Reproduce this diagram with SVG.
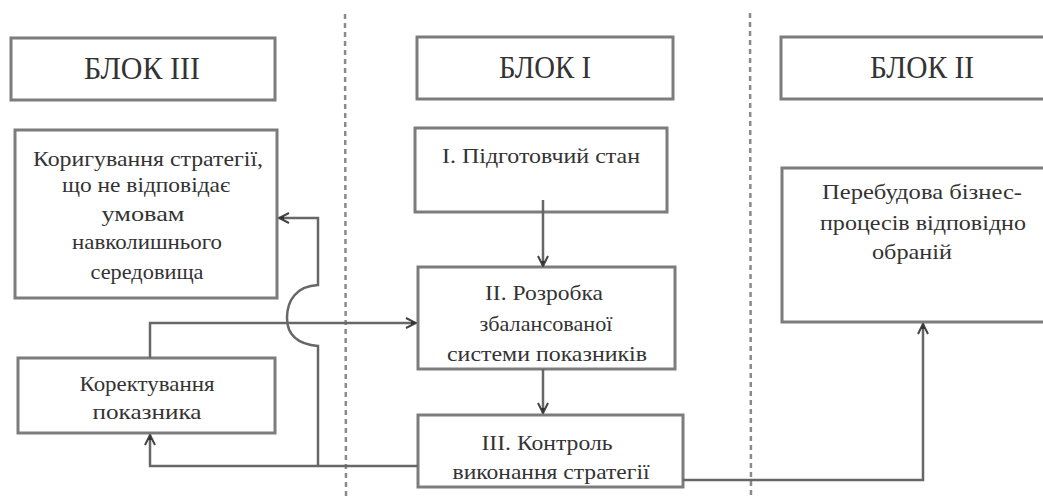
<svg xmlns="http://www.w3.org/2000/svg" width="1043" height="498" viewBox="0 0 1043 498">
<style>
.box{fill:#ffffff;stroke:#7c7c7c;stroke-width:3}
.t{font-family:"Liberation Serif","Times New Roman",serif;fill:#333333;text-anchor:middle}
.h{font-size:31px}
.b{font-size:22px}
.c{fill:none;stroke:#676767;stroke-width:2.5}
.d{fill:none;stroke:#8a8a8a;stroke-width:2.5;stroke-dasharray:5 4}
</style>
<defs>
<marker id="ar" viewBox="0 0 12 12" refX="11" refY="6" markerWidth="12" markerHeight="12" markerUnits="userSpaceOnUse" orient="auto">
<path d="M1,1 L11,6 L1,11" fill="none" stroke="#444" stroke-width="2"/>
<path d="M6,4 L11,6 L6,8 Z" fill="#333"/>
</marker>
</defs>
<rect width="1043" height="498" fill="#ffffff"/>
<g id="separators">
<line class="d" x1="345" y1="14" x2="346" y2="498"/>
<line class="d" x1="750" y1="13" x2="751" y2="498"/>
</g>
<g id="blok3">
<rect class="box" x="11" y="38" width="264" height="62"/>
<text class="t h" x="142" y="79" textLength="116" lengthAdjust="spacingAndGlyphs">БЛОК ІІІ</text>
</g>
<g id="blok1">
<rect class="box" x="417" y="37" width="256" height="62"/>
<text class="t h" x="545" y="78" textLength="92" lengthAdjust="spacingAndGlyphs">БЛОК І</text>
</g>
<g id="blok2">
<rect class="box" x="781" y="37" width="290" height="62"/>
<text class="t h" x="922" y="78" textLength="104" lengthAdjust="spacingAndGlyphs">БЛОК ІІ</text>
</g>
<g id="koryguvannia">
<rect class="box" x="15" y="130" width="262" height="168"/>
<text class="t b" x="148" y="166" textLength="230" lengthAdjust="spacingAndGlyphs">Коригування стратегії,</text>
<text class="t b" x="146" y="192" textLength="168" lengthAdjust="spacingAndGlyphs">що не відповідає</text>
<text class="t b" x="143" y="221" textLength="83" lengthAdjust="spacingAndGlyphs">умовам</text>
<text class="t b" x="147" y="249" textLength="150" lengthAdjust="spacingAndGlyphs">навколишнього</text>
<text class="t b" x="147" y="279" textLength="113" lengthAdjust="spacingAndGlyphs">середовища</text>
</g>
<g id="pidgotovchyi">
<rect class="box" x="415" y="128" width="252" height="84"/>
<text class="t b" x="541" y="163" textLength="198" lengthAdjust="spacingAndGlyphs">І. Підготовчий стан</text>
</g>
<g id="rozrobka">
<rect class="box" x="418" y="267" width="257" height="102"/>
<text class="t b" x="544" y="300" textLength="118" lengthAdjust="spacingAndGlyphs">ІІ. Розробка</text>
<text class="t b" x="546" y="331" textLength="133" lengthAdjust="spacingAndGlyphs">збалансованої</text>
<text class="t b" x="547" y="361" textLength="200" lengthAdjust="spacingAndGlyphs">системи показників</text>
</g>
<g id="kontrol">
<rect class="box" x="418" y="415" width="265" height="72"/>
<text class="t b" x="547" y="450" textLength="131" lengthAdjust="spacingAndGlyphs">ІІІ. Контроль</text>
<text class="t b" x="551" y="479" textLength="197" lengthAdjust="spacingAndGlyphs">виконання стратегії</text>
</g>
<g id="korektuvannia">
<rect class="box" x="18" y="358" width="257" height="75"/>
<text class="t b" x="147" y="391" textLength="135" lengthAdjust="spacingAndGlyphs">Коректування</text>
<text class="t b" x="147" y="419" textLength="109" lengthAdjust="spacingAndGlyphs">показника</text>
</g>
<g id="perebudova">
<rect class="box" x="782" y="168" width="290" height="154"/>
<text class="t b" x="922" y="199" textLength="200" lengthAdjust="spacingAndGlyphs">Перебудова бізнес-</text>
<text class="t b" x="923" y="230" textLength="206" lengthAdjust="spacingAndGlyphs">процесів відповідно</text>
<text class="t b" x="912" y="259" textLength="80" lengthAdjust="spacingAndGlyphs">обраній</text>
</g>
<g id="connectors">
<path class="c" d="M543,200 V266" marker-end="url(#ar)"/>
<path class="c" d="M543,369 V413" marker-end="url(#ar)"/>
<path class="c" d="M418,466 H150 V435" marker-end="url(#ar)"/>
<path class="c" d="M318,466 V346 C296,344 287,334 287,318 C287,301 296,286 318,285 V218 H279" marker-end="url(#ar)"/>
<path class="c" d="M150,358 V323 H416" marker-end="url(#ar)"/>
<path class="c" d="M683,480 H923 V324" marker-end="url(#ar)"/>
</g>
</svg>
